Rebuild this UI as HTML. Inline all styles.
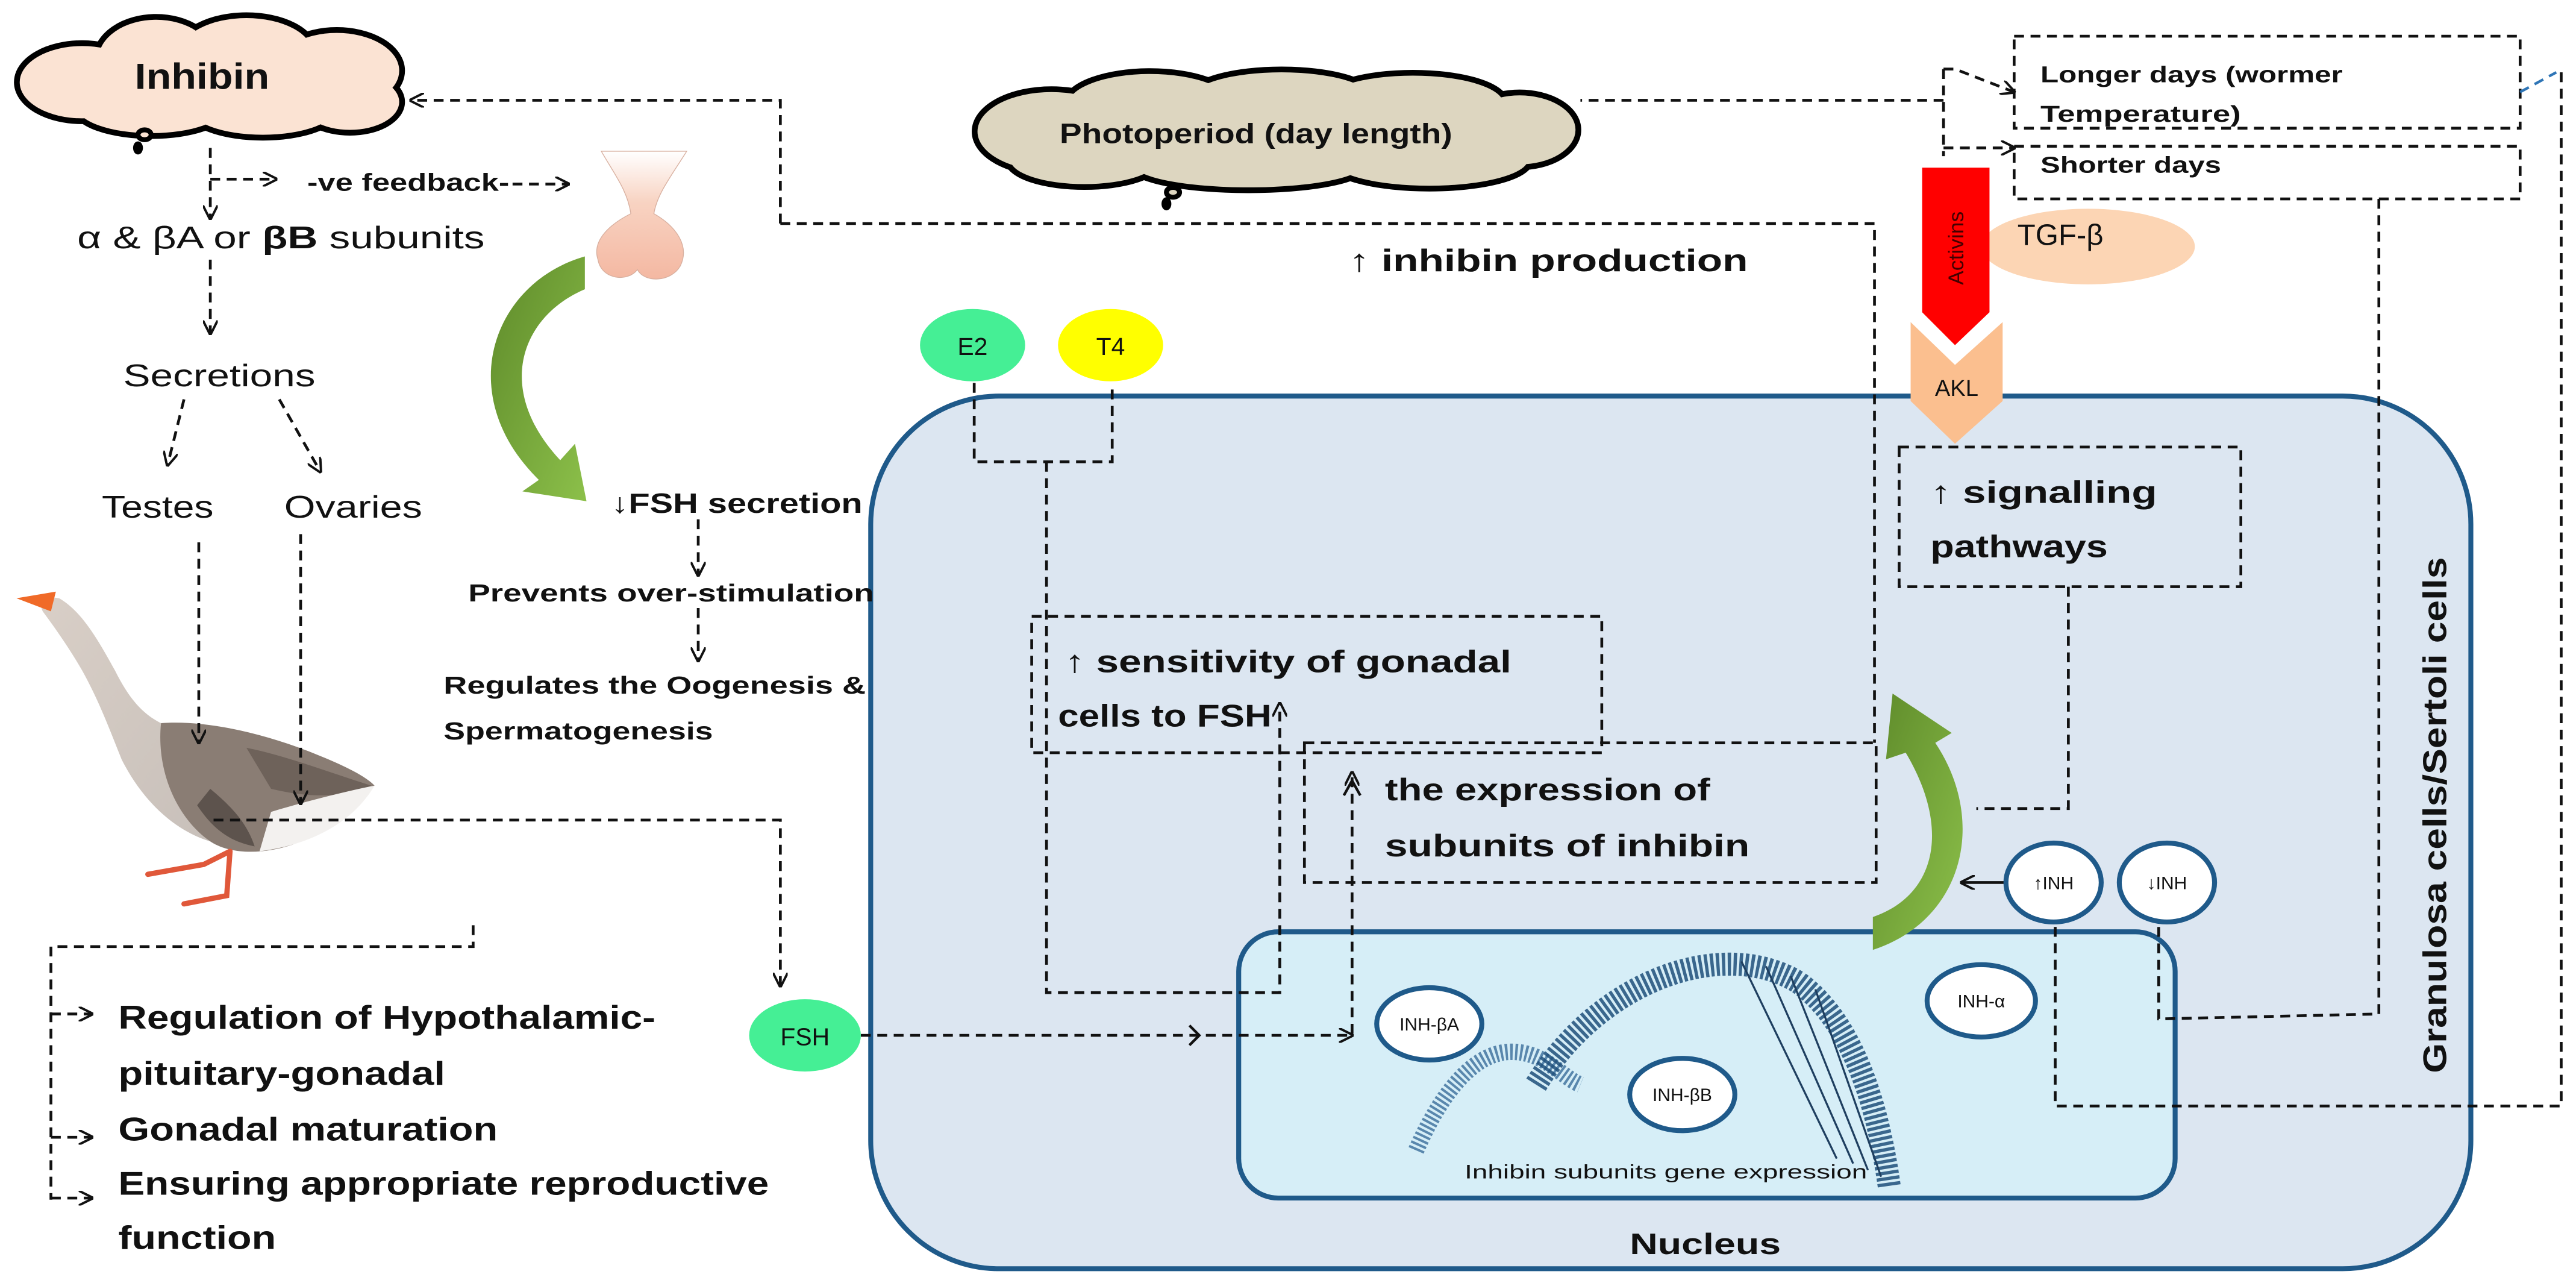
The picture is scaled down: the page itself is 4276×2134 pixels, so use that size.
<!DOCTYPE html>
<html><head><meta charset="utf-8"><style>
html,body{margin:0;padding:0;background:#fff;}
svg{display:block;}
text{font-family:"Liberation Sans",sans-serif;fill:#111;}
.b{font-weight:bold;}
.d{fill:none;stroke:#111;stroke-width:1.7;stroke-dasharray:6 4;}
</style></head><body>
<svg width="4276" height="2134" viewBox="0 0 1568 782.5" xmlns="http://www.w3.org/2000/svg">
<defs>
<marker id="ah" viewBox="0 0 10 10" refX="9" refY="5" markerWidth="9" markerHeight="9" markerUnits="userSpaceOnUse" orient="auto">
<path d="M0,0 L10,5 L0,10" fill="none" stroke="#111" stroke-width="1.6"/></marker>
<linearGradient id="gr" x1="0" y1="0" x2="1" y2="1"><stop offset="0" stop-color="#5e8a2a"/><stop offset="1" stop-color="#8cc04a"/></linearGradient>
<linearGradient id="pit" x1="0" y1="0" x2="0" y2="1"><stop offset="0" stop-color="#fff"/><stop offset="0.4" stop-color="#f8d3c2"/><stop offset="1" stop-color="#f4b8a2"/></linearGradient>
<linearGradient id="neck" x1="0" y1="0" x2="1" y2="1"><stop offset="0" stop-color="#d9cfc7"/><stop offset="1" stop-color="#c8c0ba"/></linearGradient>
</defs>

<!-- cell -->
<rect x="530" y="241" width="974" height="531" rx="78" fill="#dce6f1" stroke="#1f5a8a" stroke-width="3"/>
<!-- nucleus -->
<rect x="754" y="567" width="570" height="162" rx="24" fill="#d6eef7" stroke="#1f5a8a" stroke-width="3"/>

<!-- Inhibin cloud -->
<g stroke="#000" stroke-width="7" fill="#000">
<ellipse cx="50" cy="50" rx="38" ry="22"/><ellipse cx="95" cy="36" rx="35" ry="24"/><ellipse cx="150" cy="32" rx="40" ry="21"/><ellipse cx="205" cy="43" rx="38" ry="23"/><ellipse cx="213" cy="62" rx="30" ry="17"/><ellipse cx="160" cy="65" rx="45" ry="17"/><ellipse cx="92" cy="65" rx="45" ry="16"/>
</g>
<g fill="#fbe3d3">
<ellipse cx="50" cy="50" rx="38" ry="22"/><ellipse cx="95" cy="36" rx="35" ry="24"/><ellipse cx="150" cy="32" rx="40" ry="21"/><ellipse cx="205" cy="43" rx="38" ry="23"/><ellipse cx="213" cy="62" rx="30" ry="17"/><ellipse cx="160" cy="65" rx="45" ry="17"/><ellipse cx="92" cy="65" rx="45" ry="16"/>
<ellipse cx="130" cy="50" rx="100" ry="24"/>
</g>
<ellipse cx="88" cy="82" rx="4" ry="3" fill="#fbe3d3" stroke="#000" stroke-width="3"/>
<ellipse cx="84" cy="90" rx="3" ry="4" fill="#000"/>
<text x="82" y="54" class="b" font-size="22" textLength="82" lengthAdjust="spacingAndGlyphs">Inhibin</text>

<!-- Photoperiod cloud -->
<g stroke="#000" stroke-width="7" fill="#000">
<ellipse cx="640" cy="80" rx="45" ry="24"/><ellipse cx="700" cy="64" rx="50" ry="19"/><ellipse cx="780" cy="60" rx="55" ry="16"/><ellipse cx="860" cy="63" rx="55" ry="17"/><ellipse cx="925" cy="79" rx="34" ry="21"/><ellipse cx="870" cy="97" rx="60" ry="16"/><ellipse cx="760" cy="100" rx="70" ry="14"/><ellipse cx="660" cy="97" rx="45" ry="15"/>
</g>
<g fill="#ddd6c0">
<ellipse cx="640" cy="80" rx="45" ry="24"/><ellipse cx="700" cy="64" rx="50" ry="19"/><ellipse cx="780" cy="60" rx="55" ry="16"/><ellipse cx="860" cy="63" rx="55" ry="17"/><ellipse cx="925" cy="79" rx="34" ry="21"/><ellipse cx="870" cy="97" rx="60" ry="16"/><ellipse cx="760" cy="100" rx="70" ry="14"/><ellipse cx="660" cy="97" rx="45" ry="15"/>
<ellipse cx="780" cy="80" rx="165" ry="24"/>
</g>
<ellipse cx="714" cy="117" rx="4" ry="3" fill="#ddd6c0" stroke="#000" stroke-width="3"/>
<ellipse cx="710" cy="124" rx="3" ry="4" fill="#000"/>
<text x="645" y="87" class="b" font-size="17" textLength="239" lengthAdjust="spacingAndGlyphs">Photoperiod (day length)</text>

<!-- pituitary -->
<path d="M366,92 L418,92 C408,108 400,118 398,130 C412,138 420,150 414,162 C408,172 392,172 388,164 C382,172 366,170 364,158 C360,146 372,136 384,130 C382,116 374,106 366,92 Z" fill="url(#pit)" stroke="#d8b0a0" stroke-width="0.5"/>

<!-- left green arrow -->
<path d="M356,156 C300,172 275,240 328,292 L318,299 L357,305 L350,270 L341,280 C300,236 318,192 356,176 Z" fill="url(#gr)"/>
<!-- cell green arrow -->
<path d="M1140,578 C1195,560 1210,500 1178,452 L1188,446 L1152,422 L1148,462 L1160,458 C1188,505 1178,545 1140,558 Z" fill="url(#gr)"/>

<!-- dashed connectors -->
<path class="d" d="M475,136 L475,61 L250,61" marker-end="url(#ah)"/>
<path class="d" d="M475,136 L1141,136 L1141,452"/>
<path class="d" d="M128,90 L128,133" marker-end="url(#ah)"/>
<path class="d" d="M128,109 L168,109" marker-end="url(#ah)"/>
<path class="d" d="M312,112 L346,112" marker-end="url(#ah)"/>
<path class="d" d="M128,158 L128,203" marker-end="url(#ah)"/>
<path class="d" d="M112,243 L102,283" marker-end="url(#ah)"/>
<path class="d" d="M170,243 L195,287" marker-end="url(#ah)"/>
<path class="d" d="M425,316 L425,350" marker-end="url(#ah)"/>
<path class="d" d="M425,370 L425,402" marker-end="url(#ah)"/>
<path class="d" d="M1183,61 L962,61"/>
<path class="d" d="M1183,42 L1183,95"/>
<path class="d" d="M1183,42 L1190,42 L1226,56" marker-end="url(#ah)"/>
<path class="d" d="M1183,90 L1226,90" marker-end="url(#ah)"/>
<rect class="d" x="1226" y="22" width="308" height="56"/>
<rect class="d" x="1226" y="89" width="308" height="32"/>
<path d="M1534,56 L1556,44" fill="none" stroke="#2e75b6" stroke-width="1.6" stroke-dasharray="6 4"/>
<path class="d" d="M1559,44 L1559,673 L1251,673 L1251,562"/>
<path class="d" d="M1448,121 L1448,617 L1314,620 L1314,563"/>
<rect class="d" x="1156" y="272" width="208" height="85"/>
<path class="d" d="M1259,357 L1259,492 L1203,492"/>
<path class="d" d="M593,233 L593,281 L677,281 L677,233"/>
<path class="d" d="M637,281 L637,604 L779,604 L779,428" marker-end="url(#ah)"/>
<rect class="d" x="628" y="375" width="347" height="83"/>
<rect class="d" x="794" y="452" width="348" height="85"/>
<path class="d" d="M823,629 L823,470" marker-end="url(#ah)"/>
<path d="M818,484 L823,475 L828,484" fill="none" stroke="#111" stroke-width="1.6"/>
<path class="d" d="M524,630 L823,630" marker-end="url(#ah)"/>
<path d="M724,624 L730,630 L724,636" fill="none" stroke="#111" stroke-width="1.6"/>
<path d="M1220,537 L1194,537" fill="none" stroke="#111" stroke-width="1.7" marker-end="url(#ah)"/>

<!-- E2 / T4 / FSH -->
<ellipse cx="592" cy="210" rx="32" ry="22" fill="#45ef95"/>
<text x="592" y="216" font-size="15" text-anchor="middle">E2</text>
<ellipse cx="676" cy="210" rx="32" ry="22" fill="#ffff00"/>
<text x="676" y="216" font-size="15" text-anchor="middle">T4</text>
<ellipse cx="490" cy="630" rx="34" ry="22" fill="#45ef95"/>
<text x="490" y="636" font-size="15" text-anchor="middle">FSH</text>

<!-- Activins / TGF / AKL -->
<ellipse cx="1271" cy="150" rx="65" ry="23" fill="#fcd5b4"/>
<text x="1228" y="149" font-size="18">TGF-β</text>
<path d="M1170,102 L1211,102 L1211,190 L1190,210 L1170,190 Z" fill="#ff0000"/>
<text transform="translate(1195,151) rotate(-90)" font-size="13" text-anchor="middle" style="fill:#400">Activins</text>
<path d="M1163,196 L1190,222 L1219,196 L1219,244 L1190,270 L1163,244 Z" fill="#fbbf8f"/>
<text x="1191" y="241" font-size="14" text-anchor="middle">AKL</text>

<!-- INH circles -->
<g fill="#fff" stroke="#1f5a8a" stroke-width="3">
<ellipse cx="1250" cy="537" rx="29" ry="24"/><ellipse cx="1319" cy="537" rx="29" ry="24"/>
</g>

<!-- DNA helix -->
<g fill="none">
<path d="M862,700 C875,670 895,640 920,640 C940,640 950,655 962,660" stroke="#3a6d9a" stroke-width="10" stroke-dasharray="1.5 1.5" opacity="0.8"/>
<path d="M935,660 C975,595 1050,570 1095,598 C1125,620 1142,665 1150,722" stroke="#1f4f7a" stroke-width="14" stroke-dasharray="2 1.5" opacity="0.85"/>
<path d="M1060,585 L1118,705 M1075,588 L1128,708 M1090,594 L1137,712 M1105,602 L1145,716" stroke="#1f3f60" stroke-width="1.2"/>
</g>
<g fill="#fff" stroke="#1f5a8a" stroke-width="3">
<ellipse cx="870" cy="623" rx="32" ry="22"/><ellipse cx="1024" cy="666" rx="32" ry="22"/><ellipse cx="1206" cy="609" rx="33" ry="22"/>
</g>
<text x="870" y="627" font-size="11" text-anchor="middle">INH-βA</text>
<text x="1024" y="670" font-size="11" text-anchor="middle">INH-βB</text>
<text x="1206" y="613" font-size="11" text-anchor="middle">INH-α</text>
<text x="1250" y="541" font-size="11" text-anchor="middle">↑INH</text>
<text x="1319" y="541" font-size="11" text-anchor="middle">↓INH</text>
<text x="1014" y="717" font-size="12" text-anchor="middle" textLength="245" lengthAdjust="spacingAndGlyphs">Inhibin subunits gene expression</text>

<!-- goose -->
<g>
<path d="M98,440 C125,438 160,446 190,458 C210,466 222,472 228,478 C215,492 198,505 178,514 C160,520 140,520 128,512 C110,500 98,478 94,458 Z" fill="#8a7d74"/>
<path d="M150,455 C175,460 200,470 226,478 C210,485 190,486 165,480 Z" fill="#6e625a"/>
<path d="M22,362 L36,364 C50,372 60,390 70,408 C78,424 86,434 98,440 C95,470 108,498 128,512 C105,505 86,486 74,462 C66,442 60,426 50,408 C42,394 32,380 26,372 Z" fill="url(#neck)"/>
<path d="M165,494 C185,488 208,482 228,478 C215,500 190,514 158,518 Z" fill="#f3f1ef"/>
<path d="M120,490 C130,505 140,512 155,515 C150,500 140,490 128,480 Z" fill="#5d534d"/>
<path d="M10,364 L34,360 L31,372 Z" fill="#f06a28"/>
<path d="M140,518 L124,526 L90,532 M140,518 L138,545 L112,550" fill="none" stroke="#e0583a" stroke-width="3.2" stroke-linecap="round"/>
</g>
<path class="d" d="M121,330 L121,452" marker-end="url(#ah)"/>
<path class="d" d="M183,325 L183,489" marker-end="url(#ah)"/>
<path class="d" d="M130,499 L475,499 L475,600" marker-end="url(#ah)"/>
<path class="d" d="M288,563 L288,576 L31,576 L31,730"/>
<path class="d" d="M31,617 L56,617" marker-end="url(#ah)"/>
<path class="d" d="M31,692 L56,692" marker-end="url(#ah)"/>
<path class="d" d="M31,729 L56,729" marker-end="url(#ah)"/>

<!-- Text labels -->
<text x="187" y="116" class="b" font-size="15" textLength="123" lengthAdjust="spacingAndGlyphs">-ve feedback-</text>
<text x="47" y="151" font-size="19" textLength="248" lengthAdjust="spacingAndGlyphs">α &amp; βA or <tspan class="b">βB</tspan> subunits</text>
<text x="75" y="235" font-size="19" textLength="117" lengthAdjust="spacingAndGlyphs">Secretions</text>
<text x="62" y="315" font-size="19" textLength="68" lengthAdjust="spacingAndGlyphs">Testes</text>
<text x="173" y="315" font-size="19" textLength="84" lengthAdjust="spacingAndGlyphs">Ovaries</text>
<text x="372" y="312" class="b" font-size="17" textLength="153" lengthAdjust="spacingAndGlyphs">↓FSH secretion</text>
<text x="285" y="366" class="b" font-size="15" textLength="247" lengthAdjust="spacingAndGlyphs">Prevents over-stimulation</text>
<text x="270" y="422" class="b" font-size="15" textLength="257" lengthAdjust="spacingAndGlyphs">Regulates the Oogenesis &amp;</text>
<text x="270" y="450" class="b" font-size="15" textLength="164" lengthAdjust="spacingAndGlyphs">Spermatogenesis</text>
<text x="72" y="626" class="b" font-size="20" textLength="327" lengthAdjust="spacingAndGlyphs">Regulation of Hypothalamic-</text>
<text x="72" y="660" class="b" font-size="20" textLength="199" lengthAdjust="spacingAndGlyphs">pituitary-gonadal</text>
<text x="72" y="694" class="b" font-size="20" textLength="231" lengthAdjust="spacingAndGlyphs">Gonadal maturation</text>
<text x="72" y="727" class="b" font-size="20" textLength="396" lengthAdjust="spacingAndGlyphs">Ensuring appropriate reproductive</text>
<text x="72" y="760" class="b" font-size="20" textLength="96" lengthAdjust="spacingAndGlyphs">function</text>
<text x="821" y="165" class="b" font-size="19" textLength="243" lengthAdjust="spacingAndGlyphs">↑ inhibin production</text>
<text x="1242" y="50" class="b" font-size="14" textLength="184" lengthAdjust="spacingAndGlyphs">Longer days (wormer</text>
<text x="1242" y="74" class="b" font-size="14" textLength="122" lengthAdjust="spacingAndGlyphs">Temperature)</text>
<text x="1242" y="105" class="b" font-size="14" textLength="110" lengthAdjust="spacingAndGlyphs">Shorter days</text>
<text x="1175" y="306" class="b" font-size="19" textLength="138" lengthAdjust="spacingAndGlyphs">↑ signalling</text>
<text x="1175" y="339" class="b" font-size="19" textLength="108" lengthAdjust="spacingAndGlyphs">pathways</text>
<text x="648" y="409" class="b" font-size="19" textLength="272" lengthAdjust="spacingAndGlyphs">↑ sensitivity of gonadal</text>
<text x="644" y="442" class="b" font-size="19" textLength="130" lengthAdjust="spacingAndGlyphs">cells to FSH</text>
<text x="843" y="487" class="b" font-size="19" textLength="198" lengthAdjust="spacingAndGlyphs">the expression of</text>
<text x="843" y="521" class="b" font-size="19" textLength="222" lengthAdjust="spacingAndGlyphs">subunits of  inhibin</text>
<text x="992" y="763" class="b" font-size="18" textLength="92" lengthAdjust="spacingAndGlyphs">Nucleus</text>
<text transform="translate(1489,653) rotate(-90)" class="b" font-size="20" textLength="314" lengthAdjust="spacingAndGlyphs">Granulosa cells/Sertoli cells</text>
</svg>
</body></html>
